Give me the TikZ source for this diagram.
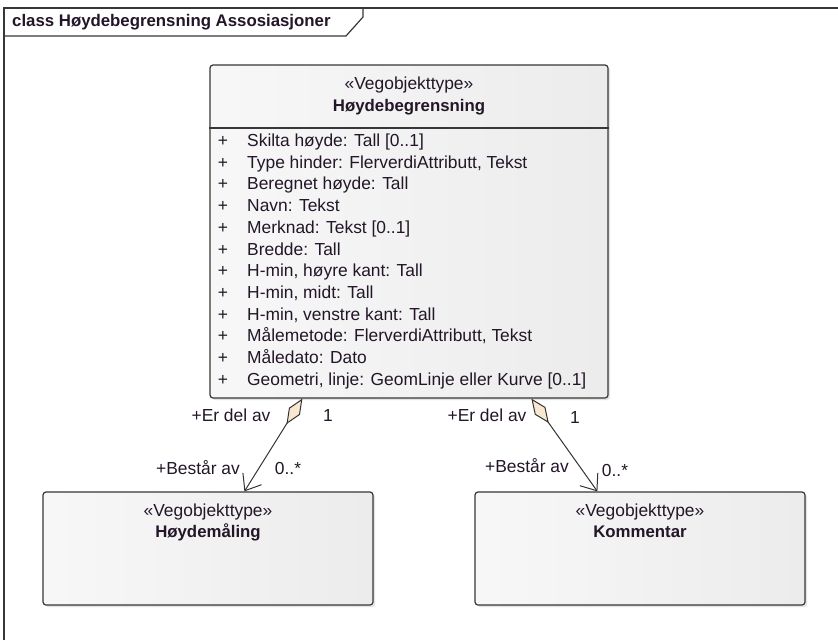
\documentclass[tikz,border=0pt]{standalone}
\usepackage{fontspec}
\setmainfont{Liberation Sans}
\usetikzlibrary{positioning}
\usetikzlibrary{shadows}
\usetikzlibrary{arrows.meta}

\definecolor{umltext}{RGB}{35,22,40}
\definecolor{umlline}{RGB}{55,55,55}
\definecolor{aggfill}{RGB}{248,232,210}

\begin{document}
\begin{tikzpicture}[x=1pt,y=-1pt,
	every node/.style={text=umltext,font=\fontsize{17.4}{20}\selectfont,inner sep=0pt,text height=12.6pt,text depth=3.6pt},
	classbox/.style={draw=umlline,line width=1.2pt,rounded corners=3pt,left color=gray!6,middle color=white,right color=gray!15,drop shadow={shadow xshift=2pt,shadow yshift=-2pt,opacity=.22}},
	classname/.style={font=\fontsize{16.8}{20}\selectfont\bfseries},
	assoc/.style={draw=black!80,line width=1pt,{Diamond[length=30pt,width=13pt,fill=aggfill]}-{Straight Barb[length=14pt,width=22pt]}}]
	\useasboundingbox (0,0) rectangle (838,640);
	\fill[white] (0,0) rectangle (838,640);
	% frame and tab
	\draw[umlline,line width=1.5pt] (4,640) -- (4,8) -- (838,8);
	\draw[umlline,line width=1.2pt] (4,36) -- (346,36) -- (363,17) -- (363,8);
	\node[classname,anchor=west] (title) at (12,22) {class Høydebegrensning Assosiasjoner};
	% main class
	\node[classbox,minimum width=398pt,minimum height=333pt] (hmain) at (409,231.5) {};
	\coordinate (hsep) at (409,128);
	\draw[umlline,line width=1.2pt] (hmain.west |- hsep) -- (hmain.east |- hsep);
	\node (hmainst) at (409,85) {«Vegobjekttype»};
	\node[classname] (hmainname) at (409,107) {Høydebegrensning};
	\foreach \attrtxt [count=\i] in {{Skilta høyde: Tall [0..1]},{Type hinder: FlerverdiAttributt, Tekst},{Beregnet høyde: Tall},{Navn: Tekst},{Merknad: Tekst [0..1]},{Bredde: Tall},{H-min, høyre kant: Tall},{H-min, midt: Tall},{H-min, venstre kant: Tall},{Målemetode: FlerverdiAttributt, Tekst},{Måledato: Dato},{Geometri, linje: GeomLinje eller Kurve [0..1]}}{
		\node (plus\i) at (223,120.3+21.7*\i) {+};
		\node[anchor=west] (attr\i) at (247,120.3+21.7*\i) {\attrtxt};
	}
	% parts
	\node[classbox,minimum width=330pt,minimum height=113pt] (hmaal) at (208,548.5) {};
	\node (hmaalst) at (208,512) {«Vegobjekttype»};
	\node[classname] (hmaalname) at (208,533) {Høydemåling};
	\node[classbox,minimum width=330pt,minimum height=113pt] (komm) at (640,548.5) {};
	\node (kommst) at (640,512) {«Vegobjekttype»};
	\node[classname] (kommname) at (640,533) {Kommentar};
	% aggregations
	\coordinate (agg1) at ([xshift=93pt]hmain.south west);
	\coordinate (tip1) at ([xshift=202pt]hmaal.north west);
	\coordinate (agg2) at ([xshift=322pt]hmain.south west);
	\coordinate (tip2) at ([xshift=123pt]komm.north west);
	\draw[assoc] (agg1) -- (tip1);
	\draw[assoc] (agg2) -- (tip2);
	\node (erdel1) at (231,417) {+Er del av};
	\node (one1) at (328,417) {1};
	\node (bestar1) at (198,470) {+Består av};
	\node (many1) at (288,470) {0..*};
	\node (erdel2) at (487,417) {+Er del av};
	\node (one2) at (575,419) {1};
	\node (bestar2) at (527,468) {+Består av};
	\node (many2) at (615,472) {0..*};
\end{tikzpicture}
\end{document}
